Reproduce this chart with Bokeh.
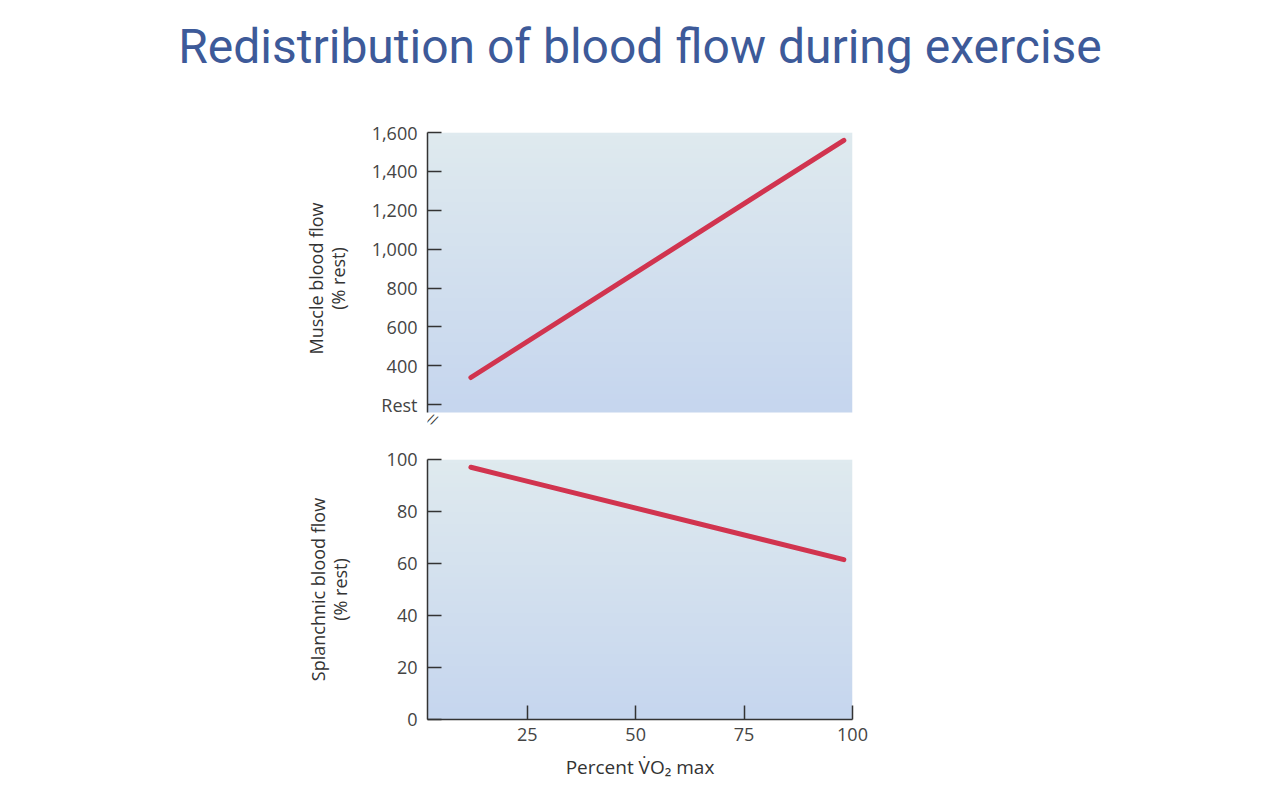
import numpy as np
from bokeh.plotting import figure
from bokeh.layouts import column
from bokeh.models import FixedTicker, Label, NumeralTickFormatter, Div
from bokeh.embed import file_html
from bokeh.resources import INLINE

# ---- data ----
x_pct = [12, 98]
muscle_flow = [340, 1560]
splanchnic_flow = [97, 61.5]
muscle_ticks = [200, 400, 600, 800, 1000, 1200, 1400, 1600]
splanchnic_ticks = [0, 20, 40, 60, 80, 100]
x_ticks = [25, 50, 75, 100]

title_text = "Redistribution of blood flow during exercise"
muscle_label = "Muscle blood flow\n(% rest)"
splanchnic_label = "Splanchnic blood flow\n(% rest)"
x_label = "Percent V\u0307O\u2082 max"

X_RANGE = (2, 100)
TOP_RANGE = (160, 1600)
BOT_RANGE = (0, 100)

TOP_FRAME_H = 280
TOP_EXTRA_PX = 12  # white space below the top panel, for the axis-break mark
TOP_UNITS_PER_PX = (TOP_RANGE[1] - TOP_RANGE[0]) / TOP_FRAME_H
TOP_VIEW = (TOP_RANGE[0] - TOP_EXTRA_PX * TOP_UNITS_PER_PX, TOP_RANGE[1])

LINE_COLOR = "#d1344f"
AXIS_COLOR = "#333333"
TICK_TEXT = "#444444"
FONT = "Open Sans"
TOP_RGB = (223, 234, 239)
BOT_RGB = (198, 214, 238)


def gradient(p, yr):
    n = 64
    t = np.linspace(0, 1, n)
    img = np.zeros((n, 1), dtype=np.uint32)
    view = img.view(dtype=np.uint8).reshape((n, 1, 4))
    for i, f in enumerate(t):
        view[i, 0, 0] = int(BOT_RGB[0] + (TOP_RGB[0] - BOT_RGB[0]) * f)
        view[i, 0, 1] = int(BOT_RGB[1] + (TOP_RGB[1] - BOT_RGB[1]) * f)
        view[i, 0, 2] = int(BOT_RGB[2] + (TOP_RGB[2] - BOT_RGB[2]) * f)
        view[i, 0, 3] = 255
    p.image_rgba(image=[img], x=X_RANGE[0], y=yr[0],
                 dw=X_RANGE[1] - X_RANGE[0], dh=yr[1] - yr[0], level="image")


def style_common(p):
    p.outline_line_color = None
    p.xgrid.visible = False
    p.ygrid.visible = False
    p.background_fill_color = None
    p.border_fill_color = "white"


def style_axis(ax, standoff_label, label_size="18px"):
    ax.axis_line_color = AXIS_COLOR
    ax.axis_line_width = 1.5
    ax.major_tick_line_color = AXIS_COLOR
    ax.major_tick_line_width = 1.5
    ax.major_tick_in = 14
    ax.major_tick_out = 0
    ax.minor_tick_line_color = None
    ax.major_label_text_font = FONT
    ax.major_label_text_font_size = "18px"
    ax.major_label_text_color = TICK_TEXT
    ax.major_label_standoff = 10
    ax.axis_label_text_font = FONT
    ax.axis_label_text_font_size = label_size
    ax.axis_label_text_font_style = "normal"
    ax.axis_label_text_color = AXIS_COLOR
    ax.axis_label_text_line_height = 0.9
    ax.axis_label_standoff = standoff_label


title_div = Div(
    text=('<div style="width:1280px;text-align:center;font-family:Roboto;'
          'font-size:48px;color:#3d5a99;line-height:56px;padding-top:19px;'
          'margin:0;">' + title_text + '</div>'),
    width=1280, height=100, margin=0)

# ---- top panel ----
p1 = figure(frame_width=425, frame_height=TOP_FRAME_H + TOP_EXTRA_PX,
            x_range=X_RANGE, y_range=TOP_VIEW,
            output_backend="svg", toolbar_location=None, x_axis_location=None,
            min_border_left=427, min_border_right=428, min_border_top=32,
            min_border_bottom=31 - TOP_EXTRA_PX)
style_common(p1)
gradient(p1, TOP_RANGE)
p1.line(x_pct, muscle_flow, line_color=LINE_COLOR, line_width=5, line_cap="round")
p1.yaxis.ticker = FixedTicker(ticks=muscle_ticks)
p1.yaxis.formatter = NumeralTickFormatter(format="0,0")
p1.yaxis.major_label_overrides = {200: "Rest"}
p1.yaxis.bounds = TOP_RANGE
p1.yaxis.axis_label = muscle_label
style_axis(p1.yaxis[0], 19)
p1.add_layout(Label(x=X_RANGE[0], y=TOP_RANGE[0], text="//",
                    text_font="DejaVu Sans", text_font_size="13px", text_color=AXIS_COLOR,
                    text_align="left", text_baseline="middle", angle=-0.45,
                    y_offset=-5, x_offset=1))

# ---- bottom panel ----
p2 = figure(frame_width=425, frame_height=260, x_range=X_RANGE, y_range=BOT_RANGE,
            output_backend="svg", toolbar_location=None,
            min_border_left=427, min_border_right=428, min_border_top=16,
            min_border_bottom=81)
style_common(p2)
gradient(p2, BOT_RANGE)
p2.line(x_pct, splanchnic_flow, line_color=LINE_COLOR, line_width=5, line_cap="round")
p2.yaxis.ticker = FixedTicker(ticks=splanchnic_ticks)
p2.yaxis.axis_label = splanchnic_label
style_axis(p2.yaxis[0], 32)
p2.xaxis.ticker = FixedTicker(ticks=x_ticks)
p2.xaxis.axis_label = x_label
style_axis(p2.xaxis[0], 10, "19px")
p2.xaxis.major_label_standoff = 8

layout = column(title_div, p1, p2, spacing=0)
open("out.html", "w").write(file_html(layout, INLINE))
